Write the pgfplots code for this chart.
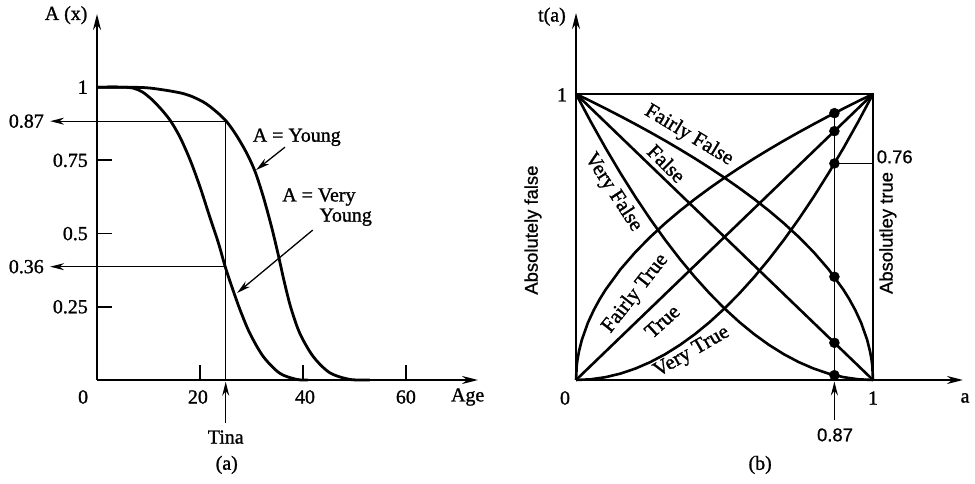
\documentclass[border=0pt]{standalone}
\usepackage{pgfplots}
\pgfplotsset{compat=1.18}
\usepackage{fontspec}
\setmainfont{Liberation Serif}[FakeBold=1.2]
\setsansfont{Liberation Sans}[FakeBold=0.9]
\usetikzlibrary{arrows.meta}
\newcommand\sz{\fontsize{20}{24}\selectfont}
\newcommand\csz{\fontsize{21}{25}\selectfont}
\newcommand\ssz{\fontsize{18.5}{22}\selectfont\sffamily}
\begin{document}
\begin{tikzpicture}[
  arr/.style={line width=1.3bp,-{Stealth[length=14bp,width=7bp]}},
  lab/.style={font=\sz, inner sep=0pt},
  clab/.style={font=\csz, inner sep=0pt}]
\useasboundingbox (0,0) rectangle (975bp,484bp);
% ---------- (a) ----------
\begin{axis}[at={(97bp,104bp)}, anchor=south west, scale only axis,
  width=381bp, height=366bp, xmin=0, xmax=74, ymin=0, ymax=1.25,
  axis lines=left, clip=false,
  axis line style={line width=2.2bp,-{Stealth[length=16bp,width=8bp]}},
  xtick={20,40,60}, ytick={0.25,0.5,0.75},
  xticklabels={}, yticklabels={},
  tick align=inside, major tick length=15bp,
  every tick/.style={line width=1.8bp, black}]
\addplot[line width=2.8bp, smooth, tension=0.5, line join=round] coordinates {
 (0,1) (5,1) (10.3,0.997) (16.8,0.978) (20.6,0.95) (23.2,0.916) (25.2,0.882)
 (27.1,0.835) (29.1,0.774) (30.7,0.712) (32.3,0.626) (33.9,0.523) (35.2,0.428)
 (36.3,0.341) (37.6,0.25) (39.4,0.159) (42,0.08) (45.2,0.025) (49.1,0.002) (53,0)};
\addplot[line width=2.8bp, smooth, tension=0.5, line join=round] coordinates {
 (0,1) (5,1) (7,0.997) (8.7,0.985) (10.4,0.962) (12.2,0.93) (14.2,0.887) (16.1,0.83)
 (18.1,0.751) (20,0.66) (21.9,0.557) (23.6,0.467) (24.9,0.387) (26.2,0.318)
 (27.8,0.239) (29.7,0.159) (32.3,0.08) (35.5,0.023) (38.8,0.002) (41,0)};
% guide lines
\addplot[line width=1.2bp] coordinates {(25,0.884) (25,0)};
\addplot[arr] coordinates {(25,0.884) (-9.1,0.884)};
\addplot[arr] coordinates {(25,0.387) (-9.1,0.387)};
\addplot[arr] coordinates {(25,-0.147) (25,-0.006)};
\addplot[arr] coordinates {(36.5,0.795) (30.9,0.717)};
\addplot[arr] coordinates {(41.9,0.512) (27.2,0.297)};
% labels
\node[lab] at (axis cs:-6.0,1.246) {A (x)};
\node[lab,anchor=east] at (axis cs:-1.75,1) {1};
\node[lab,anchor=east] at (axis cs:-1.75,0.75) {0.75};
\node[lab,anchor=east] at (axis cs:-1.75,0.5) {0.5};
\node[lab,anchor=east] at (axis cs:-1.75,0.25) {0.25};
\node[lab,anchor=east] at (axis cs:-10.3,0.884) {0.87};
\node[lab,anchor=east] at (axis cs:-10.3,0.387) {0.36};
\node[lab] at (axis cs:-2.7,-0.058) {0};
\node[lab] at (axis cs:19.6,-0.058) {20};
\node[lab] at (axis cs:40.4,-0.058) {40};
\node[lab] at (axis cs:60,-0.058) {60};
\node[lab] at (axis cs:72,-0.058) {Age};
\node[lab] at (axis cs:25,-0.195) {Tina};
\node[lab] at (axis cs:25.2,-0.29) {(a)};
\node[lab] at (axis cs:38.8,0.829) {A = Young};
\node[lab] at (axis cs:43.1,0.625) {A = Very};
\node[lab] at (axis cs:48.3,0.556) {Young};
\end{axis}
% ---------- (b) ----------
\begin{axis}[at={(576bp,104bp)}, anchor=south west, scale only axis,
  width=387bp, height=367bp, xmin=0, xmax=1.303, ymin=0, ymax=1.283,
  axis lines=left, clip=false,
  axis line style={line width=2.2bp,-{Stealth[length=16bp,width=8bp]}},
  xtick=\empty, ytick=\empty]
\addplot[line width=2bp] coordinates {(0,1) (1,1) (1,0)};
\addplot[line width=2.6bp, line join=round] coordinates {
 (0,0) (0.0025,0.05) (0.005,0.0707) (0.01,0.1) (0.02,0.1414) (0.04,0.2) (0.06,0.2449)
 (0.08,0.2828) (0.1,0.3162) (0.15,0.3873) (0.2,0.4472) (0.25,0.5) (0.3,0.5477)
 (0.35,0.5916) (0.4,0.6325) (0.45,0.6708) (0.5,0.7071) (0.55,0.7416) (0.6,0.7746)
 (0.65,0.8062) (0.7,0.8367) (0.75,0.866) (0.8,0.8944) (0.85,0.922) (0.9,0.9487)
 (0.95,0.9747) (1,1)};
\addplot[line width=2.6bp, line join=round] coordinates {
 (0,1) (0.05,0.9747) (0.1,0.9487) (0.15,0.922) (0.2,0.8944) (0.25,0.866) (0.3,0.8367)
 (0.35,0.8062) (0.4,0.7746) (0.45,0.7416) (0.5,0.7071) (0.55,0.6708) (0.6,0.6325)
 (0.65,0.5916) (0.7,0.5477) (0.75,0.5) (0.8,0.4472) (0.85,0.3873) (0.9,0.3162)
 (0.92,0.2828) (0.94,0.2449) (0.96,0.2) (0.98,0.1414) (0.99,0.1) (0.995,0.0707)
 (0.9975,0.05) (1,0)};
\addplot[line width=2.6bp, line join=round] coordinates {
 (0,0) (0.05,0.0025) (0.1,0.01) (0.15,0.0225) (0.2,0.04) (0.25,0.0625) (0.3,0.09)
 (0.35,0.1225) (0.4,0.16) (0.45,0.2025) (0.5,0.25) (0.55,0.3025) (0.6,0.36)
 (0.65,0.4225) (0.7,0.49) (0.75,0.5625) (0.8,0.64) (0.85,0.7225) (0.9,0.81)
 (0.95,0.9025) (1,1)};
\addplot[line width=2.6bp, line join=round] coordinates {
 (0,1) (0.05,0.9025) (0.1,0.81) (0.15,0.7225) (0.2,0.64) (0.25,0.5625) (0.3,0.49)
 (0.35,0.4225) (0.4,0.36) (0.45,0.3025) (0.5,0.25) (0.55,0.2025) (0.6,0.16)
 (0.65,0.1225) (0.7,0.09) (0.75,0.0625) (0.8,0.04) (0.85,0.0225) (0.9,0.01)
 (0.95,0.0025) (1,0)};
\addplot[line width=2.6bp] coordinates {(0,0) (1,1)};
\addplot[line width=2.6bp] coordinates {(0,1) (1,0)};
% guide lines
\addplot[line width=1.2bp] coordinates {(0.87,0.933) (0.87,0)};
\addplot[line width=1.2bp] coordinates {(0.87,0.757) (1,0.757)};
\addplot[arr] coordinates {(0.87,-0.14) (0.87,-0.005)};
\addplot[only marks, mark=*, mark size=5bp, black] coordinates {
 (0.87,0.933) (0.87,0.87) (0.87,0.757) (0.87,0.361) (0.87,0.13) (0.87,0.0169)};
% labels
\node[lab] at (axis cs:-0.081,1.27) {t(a)};
\node[lab] at (axis cs:-0.047,0.997) {1};
\node[lab] at (axis cs:-0.037,-0.063) {0};
\node[lab] at (axis cs:1,-0.063) {1};
\node[lab] at (axis cs:1.31,-0.063) {a};
\node[lab] at (axis cs:0.62,-0.297) {(b)};
\node[font=\ssz, inner sep=0pt] at (axis cs:0.872,-0.192) {0.87};
\node[font=\ssz, inner sep=0pt, anchor=west] at (axis cs:1.012,0.78) {0.76};
\node[font=\ssz, inner sep=0pt, rotate=90] at (axis cs:-0.145,0.524) {Absolutely false};
\node[font=\ssz, inner sep=0pt, rotate=90] at (axis cs:1.05,0.514) {Absolutley true};
\node[clab, rotate=-31] at (axis cs:0.38,0.855) {Fairly False};
\node[clab, rotate=-45] at (axis cs:0.305,0.757) {False};
\node[clab, rotate=-57] at (axis cs:0.125,0.656) {Very False};
\node[clab, rotate=52] at (axis cs:0.2,0.302) {Fairly True};
\node[clab, rotate=42] at (axis cs:0.29,0.205) {True};
\node[clab, rotate=30] at (axis cs:0.39,0.097) {Very True};
\end{axis}
\end{tikzpicture}
\end{document}
